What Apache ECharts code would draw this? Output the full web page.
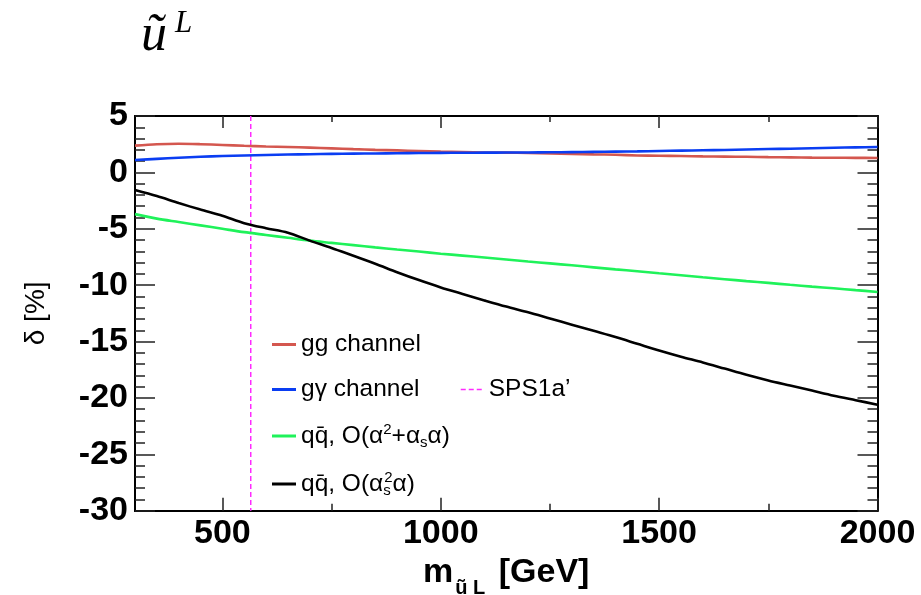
<!DOCTYPE html>
<html>
<head>
<meta charset="utf-8">
<script src="https://cdn.jsdelivr.net/npm/echarts@6/dist/echarts.min.js"></script>
<style>
  html, body { margin: 0; padding: 0; background: #fff; }
  #chart { width: 921px; height: 595px; }
</style>
</head>
<body>
<div id="chart"></div>
<script>
// squark mass grid [GeV]
const mass = [300, 350, 400, 450, 500, 550, 600, 650, 700, 750, 800, 850, 900, 950,
  1000, 1050, 1100, 1150, 1200, 1250, 1300, 1350, 1400, 1450, 1500, 1550, 1600,
  1650, 1700, 1750, 1800, 1850, 1900, 1950, 2000];

// relative corrections delta [%]
const ggChannel = [2.37, 2.5, 2.54, 2.5, 2.43, 2.36, 2.3, 2.25, 2.2, 2.13, 2.06, 2.0, 1.95, 1.9,
  1.85, 1.81, 1.77, 1.75, 1.72, 1.68, 1.64, 1.6, 1.56, 1.5, 1.47, 1.45, 1.42,
  1.4, 1.38, 1.35, 1.33, 1.31, 1.3, 1.29, 1.28];
const gGammaChannel = [1.1, 1.2, 1.3, 1.38, 1.45, 1.5, 1.54, 1.58, 1.61, 1.64, 1.66, 1.68, 1.7, 1.72,
  1.73, 1.74, 1.75, 1.76, 1.77, 1.78, 1.8, 1.82, 1.84, 1.86, 1.9, 1.93, 1.96,
  1.99, 2.03, 2.07, 2.1, 2.14, 2.18, 2.22, 2.25];
const qqEW = [-3.7, -4.1, -4.4, -4.7, -5.0, -5.3, -5.55, -5.8, -6.05, -6.25, -6.45, -6.65, -6.84, -7.02,
  -7.21, -7.38, -7.55, -7.72, -7.9, -8.07, -8.24, -8.42, -8.6, -8.77, -8.95, -9.12, -9.3,
  -9.47, -9.64, -9.8, -9.97, -10.13, -10.28, -10.44, -10.6];
const qqQCD = [-1.56, -2.1, -2.72, -3.3, -3.85, -4.5, -4.95, -5.35, -6.05, -6.7, -7.4, -8.1, -8.85, -9.55,
  -10.2, -10.78, -11.35, -11.9, -12.4, -12.95, -13.5, -14.05, -14.6, -15.2, -15.8, -16.35, -16.85,
  -17.4, -17.95, -18.45, -18.9, -19.35, -19.8, -20.2, -20.6];

// benchmark point
const spsMass = 565;
const yRange = [-30, 5];

// axis tick positions
const xMajorTicks = [500, 1000, 1500, 2000];
const xMinorTicks = [750, 1250, 1750];

const names = ['gg channel', 'g\u03b3 channel', 'qq\u0304, EW', 'qq\u0304, QCD', "SPS1a'"];
const colors = ['#d4574f', '#0a3df2', '#1ff25a', '#000000', '#ff2bff'];

const legendText = {};
legendText[names[0]] = '{t|gg channel}';
legendText[names[1]] = '{t|g\u03b3 channel}';
legendText[names[2]] = '{t|qq\u0304, O(\u03b1}{sup|2}{t|+\u03b1}{sub|s}{t|\u03b1)}';
legendText[names[3]] = '{t|qq\u0304, O(\u03b1}{subz|s}{sup|2}{t|\u03b1)}';
legendText[names[4]] = "{t|SPS1a\u2019}";

const FONT = "'Liberation Sans', Arial, sans-serif";
const legendRich = {
  t: { fontSize: 24.5, fontFamily: FONT, color: '#000', lineHeight: 28 },
  sup: { fontSize: 15, fontFamily: FONT, color: '#000', verticalAlign: 'top', lineHeight: 28 },
  sub: { fontSize: 15, fontFamily: FONT, color: '#000', verticalAlign: 'bottom', lineHeight: 28 },
  subz: { fontSize: 15, fontFamily: FONT, color: '#000', verticalAlign: 'bottom', lineHeight: 28, width: 1 }
};

function pairs(ys) { return mass.map((m, i) => [m, ys[i]]); }

const tickStyle = { color: '#222', width: 1.5 };
const axisLineStyle = { color: '#000', width: 2 };

function xAxisDef(position, ticks, len, labels) {
  return {
    type: 'value', min: 300, max: 2000, position: position,
    axisLine: { show: true, onZero: false, lineStyle: axisLineStyle },
    axisTick: { show: true, inside: true, length: len, customValues: ticks, lineStyle: tickStyle },
    axisLabel: labels ? {
      show: true, customValues: xMajorTicks, margin: 6, formatter: v => String(v),
      fontSize: 34, fontWeight: 'bold', fontFamily: FONT, color: '#000'
    } : { show: false },
    splitLine: { show: false }
  };
}

function yAxisDef(position, labels) {
  return {
    type: 'value', min: yRange[0], max: yRange[1], interval: 5, position: position,
    axisLine: { show: true, onZero: false, lineStyle: axisLineStyle },
    axisTick: { show: true, inside: true, length: 20, lineStyle: tickStyle },
    minorTick: { show: true, splitNumber: 5, length: 10, lineStyle: tickStyle },
    axisLabel: labels ? {
      show: true, margin: 7, fontSize: 34, fontWeight: 'bold', fontFamily: FONT, color: '#000'
    } : { show: false },
    splitLine: { show: false }
  };
}

const xMain = xAxisDef('bottom', xMajorTicks, 13, true);
xMain.name = '{b|m}{s|\u0169 L}{b| [GeV]}';
xMain.nameLocation = 'middle';
xMain.nameGap = 33;
xMain.nameTextStyle = {
  rich: {
    b: { fontSize: 34, fontWeight: 'bold', fontFamily: FONT, color: '#000', lineHeight: 40 },
    s: { fontSize: 20, fontWeight: 'bold', fontFamily: FONT, color: '#000', verticalAlign: 'bottom', lineHeight: 52, padding: [0, 4, 0, 2] }
  }
};

const yMain = yAxisDef('left', true);
yMain.name = '\u03b4 [%]';
yMain.nameLocation = 'middle';
yMain.nameRotate = 90;
yMain.nameGap = 85;
yMain.nameTextStyle = { fontSize: 28, fontFamily: FONT, color: '#000' };

const lineSeries = (i, ys) => ({
  name: names[i], type: 'line', data: pairs(ys), smooth: 0.3,
  symbol: 'none', showSymbol: false, xAxisIndex: 0, yAxisIndex: 0,
  lineStyle: { color: colors[i], width: 2.6 }, itemStyle: { color: colors[i] },
  z: 3
});

const option = {
  backgroundColor: '#fff',
  animation: false,
  grid: { left: 135, right: 43.5, top: 116, bottom: 84.3, containLabel: false, outerBoundsMode: 'none' },
  xAxis: [
    xMain,
    xAxisDef('bottom', xMinorTicks, 7, false),
    xAxisDef('top', xMajorTicks, 12, false),
    xAxisDef('top', xMinorTicks, 6, false)
  ],
  yAxis: [yMain, yAxisDef('right', false)],
  legend: [
    {
      data: names.slice(0, 4).map(n => ({ name: n, icon: 'rect' })),
      orient: 'vertical', left: 272, top: 332, padding: 0,
      itemWidth: 24, itemHeight: 3, itemGap: 20,
      formatter: n => legendText[n], textStyle: { rich: legendRich }, selectedMode: false
    },
    {
      // dashed line icon taken from the series, with its marker hidden
      data: [{ name: names[4], itemStyle: { opacity: 0 }, lineStyle: { width: 1.5 } }],
      orient: 'vertical', left: 460, top: 377, padding: 0,
      itemWidth: 23, itemHeight: 14,
      formatter: n => legendText[n], textStyle: { rich: legendRich }, selectedMode: false
    }
  ],
  graphic: [
    {
      type: 'text', left: 141, top: 6, z: 10,
      style: {
        text: '{u|\u0169}{l|L}',
        rich: {
          u: { fontSize: 52, fontStyle: 'italic', fontFamily: "'Liberation Serif', 'DejaVu Serif', serif", color: '#000', lineHeight: 56, verticalAlign: 'bottom' },
          l: { fontSize: 31, fontStyle: 'italic', fontFamily: "'Liberation Serif', 'DejaVu Serif', serif", color: '#000', lineHeight: 56, verticalAlign: 'top', padding: [2, 0, 0, 8] }
        }
      }
    }
  ],
  series: [
    lineSeries(0, ggChannel),
    lineSeries(1, gGammaChannel),
    lineSeries(2, qqEW),
    lineSeries(3, qqQCD),
    {
      name: names[4], type: 'line', data: [[spsMass, yRange[1]], [spsMass, yRange[0]]],
      symbol: 'none', showSymbol: false, xAxisIndex: 0, yAxisIndex: 0,
      lineStyle: { color: colors[4], width: 1.5, type: [5, 3] }, itemStyle: { color: colors[4] },
      z: 2
    }
  ]
};

const chart = echarts.init(document.getElementById('chart'), null, { renderer: 'canvas' });
chart.setOption(option);
</script>
</body>
</html>
